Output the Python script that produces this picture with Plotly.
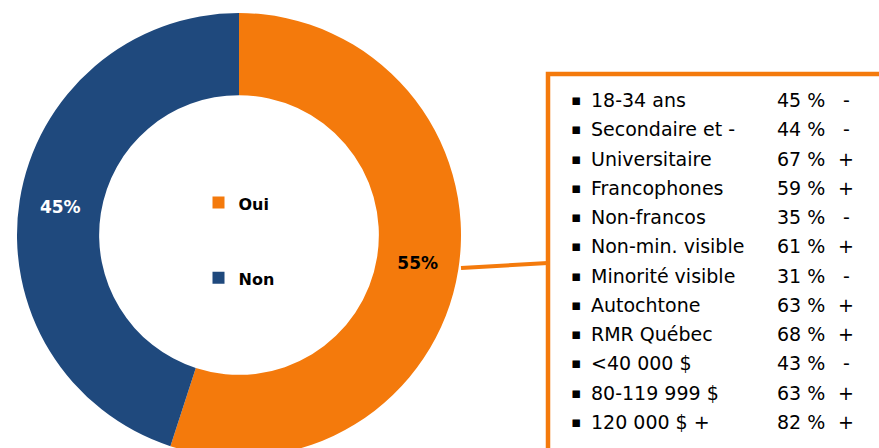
import plotly.graph_objects as go

# ---- data ----
labels = ["Oui", "Non"]
values = [55, 45]
slice_colors = ["#F47A0C", "#1F497D"]
text_colors = ["#000000", "#FFFFFF"]

groups = ["18-34 ans", "Secondaire et -", "Universitaire", "Francophones",
          "Non-francos", "Non-min. visible", "Minorité visible", "Autochtone",
          "RMR Québec", "<40 000 $", "80-119 999 $", "120 000 $ +"]
group_pct = [45, 44, 67, 59, 35, 61, 31, 63, 68, 43, 63, 82]
group_sign = ["-", "-", "+", "+", "-", "+", "-", "+", "+", "-", "+", "+"]

W, H = 879, 460
OFF = 0
ORANGE = "#F47A0C"

def px(x):
    return (x - OFF) / W

def py(y):
    return 1 - (y - OFF) / H

# legend labels with extra blank lines to spread the two entries apart
legend_labels = [f"<b><span style='font-size:16px'>{l}</span></b><br> <br> " for l in labels]

cx, cy, R = 239, 235, 222

fig = go.Figure()
fig.add_trace(go.Pie(
    labels=legend_labels,
    values=values,
    hole=0.63,
    sort=False,
    direction="clockwise",
    rotation=0,
    marker=dict(colors=slice_colors, line=dict(width=0)),
    texttemplate="<b>%{percent:.0%}</b>",
    textposition="inside",
    insidetextorientation="horizontal",
    textfont=dict(family="DejaVu Sans", size=17, color=text_colors),
    domain=dict(x=[px(cx - R), px(cx + R)], y=[py(cy + R), py(cy - R)]),
    hoverinfo="percent",
))

# callout box and connector
shapes = [
    dict(type="rect", xref="paper", yref="paper",
         x0=px(548), x1=px(900), y0=py(74), y1=py(480),
         line=dict(color=ORANGE, width=4.5), fillcolor="rgba(0,0,0,0)"),
    dict(type="line", xref="paper", yref="paper",
         x0=px(461), y0=py(268), x1=px(548), y1=py(263),
         line=dict(color=ORANGE, width=4)),
]

annotations = []
row0, step = 100, 29.27
for i, (g, p, s) in enumerate(zip(groups, group_pct, group_sign)):
    y = py(row0 + i * step)
    font = dict(family="DejaVu Sans", size=19, color="#000000")
    annotations.append(dict(text="▪", x=px(569), y=y, xref="paper", yref="paper",
                            xanchor="left", yanchor="middle", showarrow=False,
                            font=dict(family="DejaVu Sans", size=15, color="#000000")))
    annotations.append(dict(text=g, x=px(589), y=y, xref="paper", yref="paper",
                            xanchor="left", yanchor="middle", showarrow=False, font=font))
    annotations.append(dict(text=f"{p} %", x=px(775), y=y, xref="paper", yref="paper",
                            xanchor="left", yanchor="middle", showarrow=False, font=font))
    annotations.append(dict(text=s, x=px(846), y=y, xref="paper", yref="paper",
                            xanchor="center", yanchor="middle", showarrow=False, font=font))

fig.update_layout(
    width=W, height=H,
    margin=dict(l=0, r=0, t=0, b=0),
    paper_bgcolor="white",
    plot_bgcolor="white",
    showlegend=True,
    legend=dict(x=px(198.5), y=py(184), xanchor="left", yanchor="top",
                font=dict(family="DejaVu Sans", size=18.5, color="#000000"),
                valign="top", bgcolor="rgba(0,0,0,0)", itemclick=False),
    shapes=shapes,
    annotations=annotations,
)

fig.write_html(
    "out.html",
    config={"displayModeBar": False},
    post_script=("document.documentElement.style.overflow='hidden';"
                 "document.body.style.overflow='hidden';"
                 "document.body.style.margin='0';"),
)
